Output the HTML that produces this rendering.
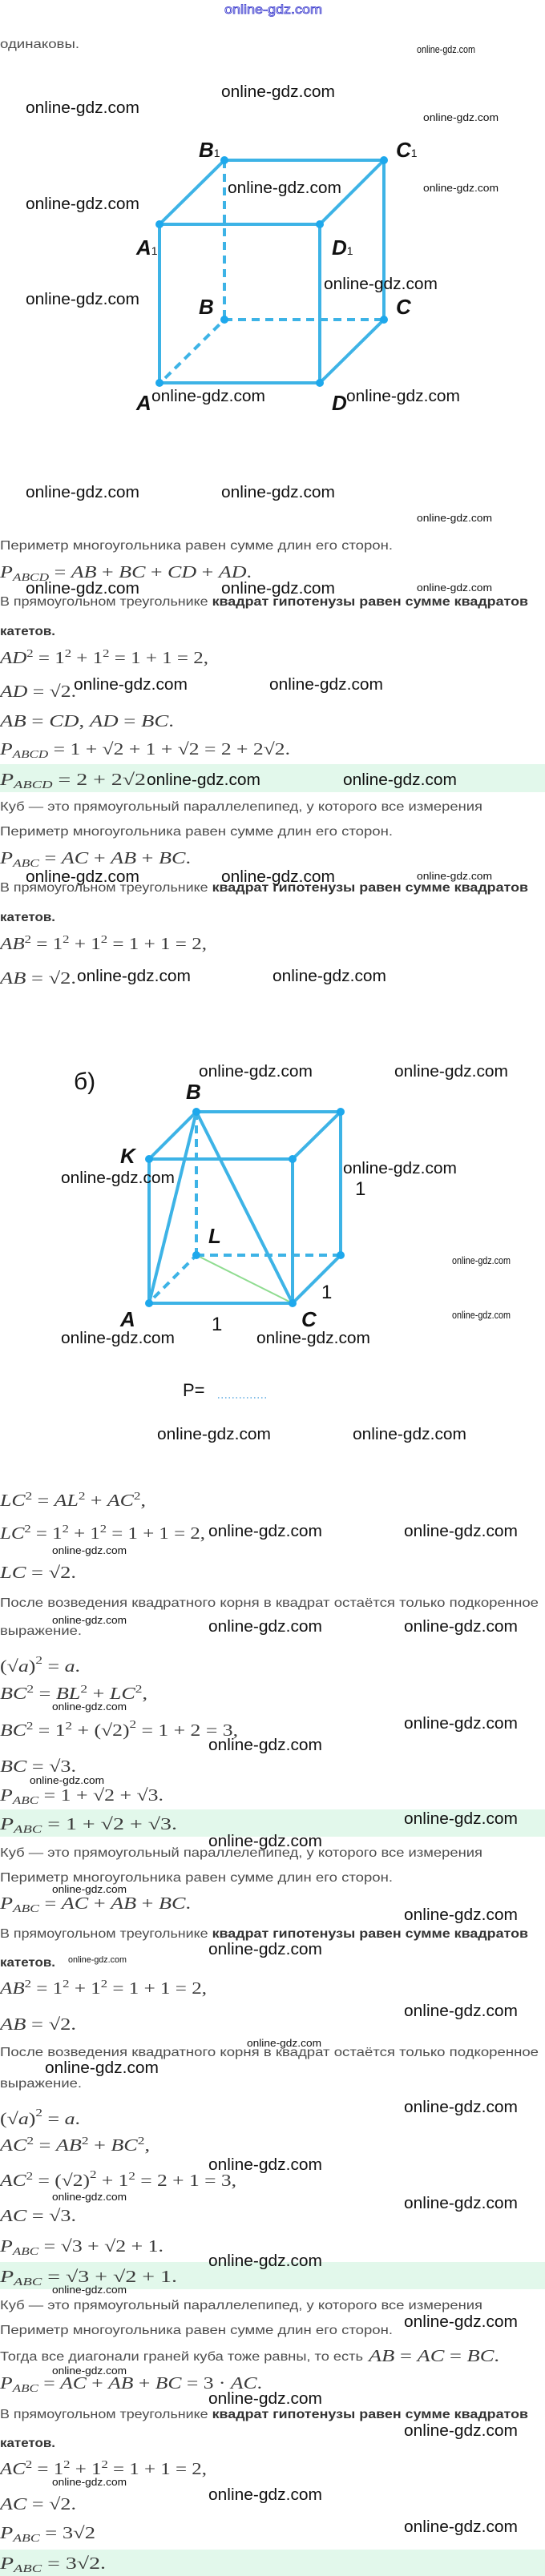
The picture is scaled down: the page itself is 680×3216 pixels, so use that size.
<!DOCTYPE html>
<html><head><meta charset="utf-8"><style>
html,body{margin:0;padding:0;background:#fff;}
svg{display:block}
.t{font-family:"Liberation Sans",sans-serif;font-size:16px;fill:#4d4d4d}
.bb{font-weight:bold;fill:#333}
.m{font-family:"Liberation Serif",serif;font-size:21px;fill:#3a3a3a}
.i{font-style:italic}
.w{font-family:"Liberation Sans",sans-serif;font-size:20px;fill:#111}
.ws{font-family:"Liberation Sans",sans-serif;font-size:13px;fill:#111}
.lb{font-family:"Liberation Sans",sans-serif;font-size:26px;font-style:italic;font-weight:bold;fill:#111}
.sub{font-size:14px}
.e{stroke:#3db3e6;stroke-width:4;fill:none}
.d{stroke:#3db3e6;stroke-width:4;fill:none;stroke-dasharray:10 7}
.p{fill:#1ea8ec}
</style></head><body>
<svg width="680" height="3216" viewBox="0 0 680 3216" xmlns="http://www.w3.org/2000/svg">
<!-- bands -->
<rect x="0" y="954" width="680" height="35" fill="#e2f8eb"/>
<rect x="0" y="2259" width="680" height="34" fill="#e2f8eb"/>
<rect x="0" y="2824" width="680" height="34" fill="#e2f8eb"/>
<rect x="0" y="3183" width="680" height="33" fill="#e2f8eb"/>

<text x="280" y="17" font-family="Liberation Sans,sans-serif" font-size="16" fill="none" stroke="#3333cc" stroke-width="0.8" textLength="122" lengthAdjust="spacingAndGlyphs">online-gdz.com</text>
<text class="t" x="0" y="60" textLength="99" lengthAdjust="spacingAndGlyphs">одинаковы.</text>
<text class="ws" x="520" y="66" font-size="11" textLength="73" lengthAdjust="spacingAndGlyphs">online-gdz.com</text>

<!-- cube 1 -->
<g>
<line class="d" x1="280" y1="200" x2="280" y2="399"/>
<line class="d" x1="280" y1="399" x2="479" y2="399"/>
<line class="d" x1="206" y1="472" x2="280" y2="399"/>
<polyline class="e" points="199,280 280,200 479,200 399,280 199,280 199,478 399,478 399,280"/>
<polyline class="e" points="479,200 479,399 399,478"/>
<g class="p"><circle cx="280" cy="200" r="5"/><circle cx="479" cy="200" r="5"/><circle cx="199" cy="280" r="5"/><circle cx="399" cy="280" r="5"/><circle cx="280" cy="399" r="5"/><circle cx="479" cy="399" r="5"/><circle cx="199" cy="478" r="5"/><circle cx="399" cy="478" r="5"/></g>
</g>
<text class="lb" x="248" y="196">B<tspan class="sub" font-style="normal" font-weight="normal">1</tspan></text>
<text class="lb" x="494" y="196">C<tspan class="sub" font-style="normal" font-weight="normal">1</tspan></text>
<text class="lb" x="170" y="318">A<tspan class="sub" font-style="normal" font-weight="normal">1</tspan></text>
<text class="lb" x="414" y="318">D<tspan class="sub" font-style="normal" font-weight="normal">1</tspan></text>
<text class="lb" x="248" y="392">B</text>
<text class="lb" x="494" y="392">C</text>
<text class="lb" x="170" y="512">A</text>
<text class="lb" x="414" y="512">D</text>

<g class="w">
<text x="276" y="121" textLength="142" lengthAdjust="spacingAndGlyphs">online-gdz.com</text>
<text x="32" y="141" textLength="142" lengthAdjust="spacingAndGlyphs">online-gdz.com</text>
<text x="284" y="241" textLength="142" lengthAdjust="spacingAndGlyphs">online-gdz.com</text>
<text x="32" y="261" textLength="142" lengthAdjust="spacingAndGlyphs">online-gdz.com</text>
<text x="32" y="380" textLength="142" lengthAdjust="spacingAndGlyphs">online-gdz.com</text>
<text x="404" y="361" textLength="142" lengthAdjust="spacingAndGlyphs">online-gdz.com</text>
<text x="189" y="501" textLength="142" lengthAdjust="spacingAndGlyphs">online-gdz.com</text>
<text x="432" y="501" textLength="142" lengthAdjust="spacingAndGlyphs">online-gdz.com</text>
<text x="32" y="621" textLength="142" lengthAdjust="spacingAndGlyphs">online-gdz.com</text>
<text x="276" y="621" textLength="142" lengthAdjust="spacingAndGlyphs">online-gdz.com</text>
</g>
<g class="ws">
<text x="528" y="151" textLength="94" lengthAdjust="spacingAndGlyphs">online-gdz.com</text>
<text x="528" y="239" textLength="94" lengthAdjust="spacingAndGlyphs">online-gdz.com</text>
<text x="520" y="651" textLength="94" lengthAdjust="spacingAndGlyphs">online-gdz.com</text>
<text x="520" y="738" textLength="94" lengthAdjust="spacingAndGlyphs">online-gdz.com</text>
<text x="520" y="1098" textLength="94" lengthAdjust="spacingAndGlyphs">online-gdz.com</text>
</g>

<!-- section 2 -->
<text class="t" x="0" y="686" textLength="490" lengthAdjust="spacingAndGlyphs">Периметр многоугольника равен сумме длин его сторон.</text>
<text class="m" x="0" y="721" textLength="314" lengthAdjust="spacingAndGlyphs"><tspan class="i">P</tspan><tspan class="i sub" dy="4">ABCD</tspan><tspan dy="-4"> = </tspan><tspan class="i">AB</tspan> + <tspan class="i">BC</tspan> + <tspan class="i">CD</tspan> + <tspan class="i">AD</tspan>.</text>
<g class="w">
<text x="32" y="741" textLength="142" lengthAdjust="spacingAndGlyphs">online-gdz.com</text>
<text x="276" y="741" textLength="142" lengthAdjust="spacingAndGlyphs">online-gdz.com</text>
</g>
<text class="t" x="0" y="756" textLength="659" lengthAdjust="spacingAndGlyphs">В прямоугольном треугольнике <tspan class="bb">квадрат гипотенузы равен сумме квадратов</tspan></text>
<text class="t bb" x="0" y="793" textLength="69" lengthAdjust="spacingAndGlyphs">катетов.</text>
<text class="m" x="0" y="828" textLength="260" lengthAdjust="spacingAndGlyphs"><tspan class="i">AD</tspan><tspan class="sub" dy="-8">2</tspan><tspan dy="8"> = 1</tspan><tspan class="sub" dy="-8">2</tspan><tspan dy="8"> + 1</tspan><tspan class="sub" dy="-8">2</tspan><tspan dy="8"> = 1 + 1 = 2,</tspan></text>
<text class="m" x="0" y="870" textLength="95" lengthAdjust="spacingAndGlyphs"><tspan class="i">AD</tspan> = √2.</text>
<text class="w" x="92" y="861" textLength="142" lengthAdjust="spacingAndGlyphs">online-gdz.com</text>
<text class="w" x="336" y="861" textLength="142" lengthAdjust="spacingAndGlyphs">online-gdz.com</text>
<text class="m" x="0" y="907" textLength="217" lengthAdjust="spacingAndGlyphs"><tspan class="i">AB</tspan> = <tspan class="i">CD</tspan>,  <tspan class="i">AD</tspan> = <tspan class="i">BC</tspan>.</text>
<text class="m" x="0" y="942" textLength="362" lengthAdjust="spacingAndGlyphs"><tspan class="i">P</tspan><tspan class="i sub" dy="4">ABCD</tspan><tspan dy="-4"> = 1 + √2 + 1 + √2 = 2 + 2√2.</tspan></text>
<text class="m" x="0" y="980" font-size="23" textLength="182" lengthAdjust="spacingAndGlyphs"><tspan class="i">P</tspan><tspan class="i sub" dy="4">ABCD</tspan><tspan dy="-4"> = 2 + 2√2</tspan></text>
<text class="w" x="183" y="980" textLength="142" lengthAdjust="spacingAndGlyphs">online-gdz.com</text>
<text class="w" x="428" y="980" textLength="142" lengthAdjust="spacingAndGlyphs">online-gdz.com</text>
<text class="t" x="0" y="1012" textLength="602" lengthAdjust="spacingAndGlyphs">Куб — это прямоугольный параллелепипед, у которого все измерения</text>
<text class="t" x="0" y="1043" textLength="490" lengthAdjust="spacingAndGlyphs">Периметр многоугольника равен сумме длин его сторон.</text>
<text class="m" x="0" y="1078" textLength="238" lengthAdjust="spacingAndGlyphs"><tspan class="i">P</tspan><tspan class="i sub" dy="4">ABC</tspan><tspan dy="-4"> = </tspan><tspan class="i">AC</tspan> + <tspan class="i">AB</tspan> + <tspan class="i">BC</tspan>.</text>
<text class="w" x="32" y="1101" textLength="142" lengthAdjust="spacingAndGlyphs">online-gdz.com</text>
<text class="w" x="276" y="1101" textLength="142" lengthAdjust="spacingAndGlyphs">online-gdz.com</text>
<text class="t" x="0" y="1113" textLength="659" lengthAdjust="spacingAndGlyphs">В прямоугольном треугольнике <tspan class="bb">квадрат гипотенузы равен сумме квадратов</tspan></text>
<text class="t bb" x="0" y="1150" textLength="69" lengthAdjust="spacingAndGlyphs">катетов.</text>
<text class="m" x="0" y="1185" textLength="258" lengthAdjust="spacingAndGlyphs"><tspan class="i">AB</tspan><tspan class="sub" dy="-8">2</tspan><tspan dy="8"> = 1</tspan><tspan class="sub" dy="-8">2</tspan><tspan dy="8"> + 1</tspan><tspan class="sub" dy="-8">2</tspan><tspan dy="8"> = 1 + 1 = 2,</tspan></text>
<text class="m" x="0" y="1228" textLength="95" lengthAdjust="spacingAndGlyphs"><tspan class="i">AB</tspan> = √2.</text>
<text class="w" x="96" y="1225" textLength="142" lengthAdjust="spacingAndGlyphs">online-gdz.com</text>
<text class="w" x="340" y="1225" textLength="142" lengthAdjust="spacingAndGlyphs">online-gdz.com</text>

<!-- section 3 cube 2 -->
<text x="92" y="1360" font-family="Liberation Sans,sans-serif" font-size="30" fill="#111">б)</text>
<text class="w" x="248" y="1344" textLength="142" lengthAdjust="spacingAndGlyphs">online-gdz.com</text>
<text class="w" x="492" y="1344" textLength="142" lengthAdjust="spacingAndGlyphs">online-gdz.com</text>
<line class="d" x1="245" y1="1388" x2="245" y2="1567"/>
<line class="d" x1="245" y1="1567" x2="425" y2="1567"/>
<line class="d" x1="192" y1="1620" x2="245" y2="1567"/>
<line x1="245" y1="1567" x2="365" y2="1627" stroke="#8fdc90" stroke-width="2"/>
<polyline class="e" points="186,1447 245,1388 425,1388 365,1447 186,1447 186,1627 365,1627 365,1447"/>
<polyline class="e" points="425,1388 425,1567 365,1627"/>
<line class="e" x1="245" y1="1388" x2="186" y2="1627"/>
<line class="e" x1="245" y1="1388" x2="365" y2="1627"/>
<g class="p"><circle cx="245" cy="1388" r="5"/><circle cx="425" cy="1388" r="5"/><circle cx="186" cy="1447" r="5"/><circle cx="365" cy="1447" r="5"/><circle cx="245" cy="1567" r="5"/><circle cx="425" cy="1567" r="5"/><circle cx="186" cy="1627" r="5"/><circle cx="365" cy="1627" r="5"/></g>
<text class="lb" x="232" y="1372">B</text>
<text class="lb" x="150" y="1452">K</text>
<text class="lb" x="260" y="1552">L</text>
<text class="lb" x="150" y="1656">A</text>
<text class="lb" x="376" y="1656">C</text>
<text x="443" y="1492" font-family="Liberation Sans,sans-serif" font-size="24" fill="#111">1</text>
<text x="401" y="1621" font-family="Liberation Sans,sans-serif" font-size="24" fill="#111">1</text>
<text x="264" y="1661" font-family="Liberation Sans,sans-serif" font-size="24" fill="#111">1</text>
<text class="w" x="76" y="1477" textLength="142" lengthAdjust="spacingAndGlyphs">online-gdz.com</text>
<text class="w" x="428" y="1465" textLength="142" lengthAdjust="spacingAndGlyphs">online-gdz.com</text>
<text class="ws" x="564" y="1578" font-size="11" textLength="73" lengthAdjust="spacingAndGlyphs">online-gdz.com</text>
<text class="ws" x="564" y="1646" font-size="11" textLength="73" lengthAdjust="spacingAndGlyphs">online-gdz.com</text>
<text class="w" x="76" y="1677" textLength="142" lengthAdjust="spacingAndGlyphs">online-gdz.com</text>
<text class="w" x="320" y="1677" textLength="142" lengthAdjust="spacingAndGlyphs">online-gdz.com</text>
<text x="228" y="1743" font-family="Liberation Sans,sans-serif" font-size="22" fill="#111">P=</text>
<line x1="272" y1="1745" x2="332" y2="1745" stroke="#5aa8e0" stroke-width="1.5" stroke-dasharray="1.5 3"/>
<text class="w" x="196" y="1797" textLength="142" lengthAdjust="spacingAndGlyphs">online-gdz.com</text>
<text class="w" x="440" y="1797" textLength="142" lengthAdjust="spacingAndGlyphs">online-gdz.com</text>

<text class="m" x="0" y="1880" textLength="182" lengthAdjust="spacingAndGlyphs"><tspan class="i">LC</tspan><tspan class="sub" dy="-8">2</tspan><tspan dy="8"> = </tspan><tspan class="i">AL</tspan><tspan class="sub" dy="-8">2</tspan><tspan dy="8"> + </tspan><tspan class="i">AC</tspan><tspan class="sub" dy="-8">2</tspan><tspan dy="8">,</tspan></text>
<text class="m" x="0" y="1921" textLength="256" lengthAdjust="spacingAndGlyphs"><tspan class="i">LC</tspan><tspan class="sub" dy="-8">2</tspan><tspan dy="8"> = 1</tspan><tspan class="sub" dy="-8">2</tspan><tspan dy="8"> + 1</tspan><tspan class="sub" dy="-8">2</tspan><tspan dy="8"> = 1 + 1 = 2,</tspan></text>
<text class="w" x="260" y="1918" textLength="142" lengthAdjust="spacingAndGlyphs">online-gdz.com</text>
<text class="w" x="504" y="1918" textLength="142" lengthAdjust="spacingAndGlyphs">online-gdz.com</text>

<!-- section 4 -->
<g class="ws">
<text x="65" y="1940" textLength="93" lengthAdjust="spacingAndGlyphs">online-gdz.com</text>
<text x="65" y="2027" textLength="93" lengthAdjust="spacingAndGlyphs">online-gdz.com</text>
<text x="65" y="2135" textLength="93" lengthAdjust="spacingAndGlyphs">online-gdz.com</text>
<text x="37" y="2227" textLength="93" lengthAdjust="spacingAndGlyphs">online-gdz.com</text>
<text x="65" y="2363" textLength="93" lengthAdjust="spacingAndGlyphs">online-gdz.com</text>
<text x="85" y="2450" font-size="11" textLength="73" lengthAdjust="spacingAndGlyphs">online-gdz.com</text>
<text x="308" y="2555" textLength="93" lengthAdjust="spacingAndGlyphs">online-gdz.com</text>
<text x="65" y="2747" textLength="93" lengthAdjust="spacingAndGlyphs">online-gdz.com</text>
<text x="65" y="2863" textLength="93" lengthAdjust="spacingAndGlyphs">online-gdz.com</text>
<text x="65" y="2964" textLength="93" lengthAdjust="spacingAndGlyphs">online-gdz.com</text>
<text x="65" y="3103" textLength="93" lengthAdjust="spacingAndGlyphs">online-gdz.com</text>
</g>
<text class="m" x="0" y="1970" textLength="95" lengthAdjust="spacingAndGlyphs"><tspan class="i">LC</tspan> = √2.</text>
<text class="t" x="0" y="2006" textLength="672" lengthAdjust="spacingAndGlyphs">После возведения квадратного корня в квадрат остаётся только подкоренное</text>
<text class="t" x="0" y="2041" textLength="102" lengthAdjust="spacingAndGlyphs">выражение.</text>
<text class="w" x="260" y="2037" textLength="142" lengthAdjust="spacingAndGlyphs">online-gdz.com</text>
<text class="w" x="504" y="2037" textLength="142" lengthAdjust="spacingAndGlyphs">online-gdz.com</text>
<text class="m" x="0" y="2087" textLength="100" lengthAdjust="spacingAndGlyphs">(√<tspan class="i">a</tspan>)<tspan class="sub" dy="-10">2</tspan><tspan dy="10"> = </tspan><tspan class="i">a</tspan>.</text>
<text class="m" x="0" y="2121" textLength="184" lengthAdjust="spacingAndGlyphs"><tspan class="i">BC</tspan><tspan class="sub" dy="-8">2</tspan><tspan dy="8"> = </tspan><tspan class="i">BL</tspan><tspan class="sub" dy="-8">2</tspan><tspan dy="8"> + </tspan><tspan class="i">LC</tspan><tspan class="sub" dy="-8">2</tspan><tspan dy="8">,</tspan></text>
<text class="m" x="0" y="2167" textLength="297" lengthAdjust="spacingAndGlyphs"><tspan class="i">BC</tspan><tspan class="sub" dy="-8">2</tspan><tspan dy="8"> = 1</tspan><tspan class="sub" dy="-8">2</tspan><tspan dy="8"> + (√2)</tspan><tspan class="sub" dy="-10">2</tspan><tspan dy="10"> = 1 + 2 = 3,</tspan></text>
<text class="w" x="504" y="2158" textLength="142" lengthAdjust="spacingAndGlyphs">online-gdz.com</text>
<text class="w" x="260" y="2185" textLength="142" lengthAdjust="spacingAndGlyphs">online-gdz.com</text>
<text class="m" x="0" y="2212" textLength="95" lengthAdjust="spacingAndGlyphs"><tspan class="i">BC</tspan> = √3.</text>
<text class="m" x="0" y="2248" textLength="204" lengthAdjust="spacingAndGlyphs"><tspan class="i">P</tspan><tspan class="i sub" dy="4">ABC</tspan><tspan dy="-4"> = 1 + √2 + √3.</tspan></text>
<text class="m" x="0" y="2284" font-size="23" textLength="221" lengthAdjust="spacingAndGlyphs"><tspan class="i">P</tspan><tspan class="i sub" dy="4">ABC</tspan><tspan dy="-4"> = 1 + √2 + √3.</tspan></text>
<text class="w" x="504" y="2277" textLength="142" lengthAdjust="spacingAndGlyphs">online-gdz.com</text>
<text class="w" x="260" y="2305" textLength="142" lengthAdjust="spacingAndGlyphs">online-gdz.com</text>
<text class="t" x="0" y="2318" textLength="602" lengthAdjust="spacingAndGlyphs">Куб — это прямоугольный параллелепипед, у которого все измерения</text>
<text class="t" x="0" y="2349" textLength="490" lengthAdjust="spacingAndGlyphs">Периметр многоугольника равен сумме длин его сторон.</text>
<text class="m" x="0" y="2383" textLength="238" lengthAdjust="spacingAndGlyphs"><tspan class="i">P</tspan><tspan class="i sub" dy="4">ABC</tspan><tspan dy="-4"> = </tspan><tspan class="i">AC</tspan> + <tspan class="i">AB</tspan> + <tspan class="i">BC</tspan>.</text>
<text class="w" x="504" y="2397" textLength="142" lengthAdjust="spacingAndGlyphs">online-gdz.com</text>
<text class="t" x="0" y="2419" textLength="659" lengthAdjust="spacingAndGlyphs">В прямоугольном треугольнике <tspan class="bb">квадрат гипотенузы равен сумме квадратов</tspan></text>
<text class="w" x="260" y="2440" textLength="142" lengthAdjust="spacingAndGlyphs">online-gdz.com</text>
<text class="t bb" x="0" y="2455" textLength="69" lengthAdjust="spacingAndGlyphs">катетов.</text>
<text class="m" x="0" y="2489" textLength="258" lengthAdjust="spacingAndGlyphs"><tspan class="i">AB</tspan><tspan class="sub" dy="-8">2</tspan><tspan dy="8"> = 1</tspan><tspan class="sub" dy="-8">2</tspan><tspan dy="8"> + 1</tspan><tspan class="sub" dy="-8">2</tspan><tspan dy="8"> = 1 + 1 = 2,</tspan></text>
<text class="w" x="504" y="2517" textLength="142" lengthAdjust="spacingAndGlyphs">online-gdz.com</text>
<text class="m" x="0" y="2534" textLength="95" lengthAdjust="spacingAndGlyphs"><tspan class="i">AB</tspan> = √2.</text>

<!-- section 5 -->
<text class="t" x="0" y="2567" textLength="672" lengthAdjust="spacingAndGlyphs">После возведения квадратного корня в квадрат остаётся только подкоренное</text>
<text class="w" x="56" y="2588" textLength="142" lengthAdjust="spacingAndGlyphs">online-gdz.com</text>
<text class="t" x="0" y="2606" textLength="102" lengthAdjust="spacingAndGlyphs">выражение.</text>
<text class="w" x="504" y="2637" textLength="142" lengthAdjust="spacingAndGlyphs">online-gdz.com</text>
<text class="m" x="0" y="2652" textLength="100" lengthAdjust="spacingAndGlyphs">(√<tspan class="i">a</tspan>)<tspan class="sub" dy="-10">2</tspan><tspan dy="10"> = </tspan><tspan class="i">a</tspan>.</text>
<text class="m" x="0" y="2685" textLength="187" lengthAdjust="spacingAndGlyphs"><tspan class="i">AC</tspan><tspan class="sub" dy="-8">2</tspan><tspan dy="8"> = </tspan><tspan class="i">AB</tspan><tspan class="sub" dy="-8">2</tspan><tspan dy="8"> + </tspan><tspan class="i">BC</tspan><tspan class="sub" dy="-8">2</tspan><tspan dy="8">,</tspan></text>
<text class="w" x="260" y="2709" textLength="142" lengthAdjust="spacingAndGlyphs">online-gdz.com</text>
<text class="m" x="0" y="2729" textLength="295" lengthAdjust="spacingAndGlyphs"><tspan class="i">AC</tspan><tspan class="sub" dy="-8">2</tspan><tspan dy="8"> = (√2)</tspan><tspan class="sub" dy="-10">2</tspan><tspan dy="10"> + 1</tspan><tspan class="sub" dy="-8">2</tspan><tspan dy="8"> = 2 + 1 = 3,</tspan></text>
<text class="w" x="504" y="2757" textLength="142" lengthAdjust="spacingAndGlyphs">online-gdz.com</text>
<text class="m" x="0" y="2773" textLength="95" lengthAdjust="spacingAndGlyphs"><tspan class="i">AC</tspan> = √3.</text>
<text class="m" x="0" y="2811" textLength="204" lengthAdjust="spacingAndGlyphs"><tspan class="i">P</tspan><tspan class="i sub" dy="4">ABC</tspan><tspan dy="-4"> = √3 + √2 + 1.</tspan></text>
<text class="w" x="260" y="2829" textLength="142" lengthAdjust="spacingAndGlyphs">online-gdz.com</text>
<text class="m" x="0" y="2849" font-size="23" textLength="221" lengthAdjust="spacingAndGlyphs"><tspan class="i">P</tspan><tspan class="i sub" dy="4">ABC</tspan><tspan dy="-4"> = √3 + √2 + 1.</tspan></text>
<text class="t" x="0" y="2883" textLength="602" lengthAdjust="spacingAndGlyphs">Куб — это прямоугольный параллелепипед, у которого все измерения</text>
<text class="w" x="504" y="2905" textLength="142" lengthAdjust="spacingAndGlyphs">online-gdz.com</text>
<text class="t" x="0" y="2914" textLength="490" lengthAdjust="spacingAndGlyphs">Периметр многоугольника равен сумме длин его сторон.</text>
<text class="t" x="0" y="2947" textLength="453" lengthAdjust="spacingAndGlyphs">Тогда все диагонали граней куба тоже равны, то есть</text>
<text class="m" x="460" y="2948" textLength="163" lengthAdjust="spacingAndGlyphs"><tspan class="i">AB</tspan> = <tspan class="i">AC</tspan> = <tspan class="i">BC</tspan>.</text>
<text class="m" x="0" y="2982" textLength="327" lengthAdjust="spacingAndGlyphs"><tspan class="i">P</tspan><tspan class="i sub" dy="4">ABC</tspan><tspan dy="-4"> = </tspan><tspan class="i">AC</tspan> + <tspan class="i">AB</tspan> + <tspan class="i">BC</tspan> = 3 · <tspan class="i">AC</tspan>.</text>
<text class="w" x="260" y="3001" textLength="142" lengthAdjust="spacingAndGlyphs">online-gdz.com</text>
<text class="t" x="0" y="3019" textLength="659" lengthAdjust="spacingAndGlyphs">В прямоугольном треугольнике <tspan class="bb">квадрат гипотенузы равен сумме квадратов</tspan></text>
<text class="w" x="504" y="3041" textLength="142" lengthAdjust="spacingAndGlyphs">online-gdz.com</text>
<text class="t bb" x="0" y="3055" textLength="69" lengthAdjust="spacingAndGlyphs">катетов.</text>
<text class="m" x="0" y="3089" textLength="258" lengthAdjust="spacingAndGlyphs"><tspan class="i">AC</tspan><tspan class="sub" dy="-8">2</tspan><tspan dy="8"> = 1</tspan><tspan class="sub" dy="-8">2</tspan><tspan dy="8"> + 1</tspan><tspan class="sub" dy="-8">2</tspan><tspan dy="8"> = 1 + 1 = 2,</tspan></text>
<text class="w" x="260" y="3121" textLength="142" lengthAdjust="spacingAndGlyphs">online-gdz.com</text>
<text class="m" x="0" y="3133" textLength="95" lengthAdjust="spacingAndGlyphs"><tspan class="i">AC</tspan> = √2.</text>
<text class="w" x="504" y="3161" textLength="142" lengthAdjust="spacingAndGlyphs">online-gdz.com</text>
<text class="m" x="0" y="3169" textLength="119" lengthAdjust="spacingAndGlyphs"><tspan class="i">P</tspan><tspan class="i sub" dy="4">ABC</tspan><tspan dy="-4"> = 3√2</tspan></text>
<text class="m" x="0" y="3207" font-size="23" textLength="132" lengthAdjust="spacingAndGlyphs"><tspan class="i">P</tspan><tspan class="i sub" dy="4">ABC</tspan><tspan dy="-4"> = 3√2.</tspan></text>
</svg>
</body></html>
